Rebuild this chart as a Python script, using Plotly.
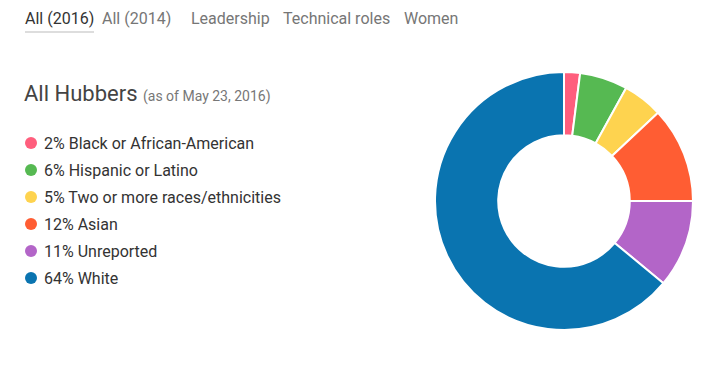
import plotly.graph_objects as go

labels = ["Black or African-American", "Hispanic or Latino", "Two or more races/ethnicities",
          "Asian", "Unreported", "White"]
values = [2, 6, 5, 12, 11, 64]
colors = ["#ff5e7d", "#56b952", "#fed34f", "#ff5d33", "#b365c8", "#0a74b0"]
tabs = ["All (2016)", "All (2014)", "Leadership", "Technical roles", "Women"]
title = "All Hubbers"
subtitle = "(as of May 23, 2016)"

W, H = 719, 373
OFF = 8  # page body margin
FONT = "Roboto, 'Open Sans', sans-serif"

fig = go.Figure()

fig.add_trace(go.Pie(
    labels=labels, values=values, sort=False, direction="clockwise", rotation=0,
    hole=0.51, marker=dict(colors=colors, line=dict(color="white", width=2)),
    textinfo="none", hoverinfo="label+percent", showlegend=False,
    domain=dict(x=[(433 - OFF) / W, (695 - OFF) / W],
                y=[1 - (330 - OFF) / H, 1 - (72 - OFF) / H]),
))

# legend dots
ly = [143 + 27 * i for i in range(len(labels))]
fig.add_trace(go.Scatter(
    x=[31] * len(labels), y=ly, mode="markers",
    marker=dict(color=colors, size=12), hoverinfo="skip", showlegend=False,
))

annotations = []
for i, (lab, v) in enumerate(zip(labels, values)):
    annotations.append(dict(x=42, y=ly[i], xref="x", yref="y", text=f"{v}% {lab}",
                            showarrow=False, xanchor="left", yanchor="middle",
                            font=dict(family=FONT, size=16, color="#333333")))

# tabs
tab_x = [23, 100, 189, 281, 402]
for i, t in enumerate(tabs):
    annotations.append(dict(x=tab_x[i], y=18, xref="x", yref="y", text=t, showarrow=False,
                            xanchor="left", yanchor="middle",
                            font=dict(family=FONT, size=16,
                                      color="#333333" if i == 0 else "#767676")))

annotations.append(dict(x=22, y=93, xref="x", yref="y",
                        text=f"{title} <span style='font-size:14px;color:#777777'>{subtitle}</span>",
                        showarrow=False, xanchor="left", yanchor="middle",
                        font=dict(family=FONT, size=22, color="#444444")))

fig.update_layout(
    width=W, height=H, margin=dict(l=0, r=0, t=0, b=0),
    paper_bgcolor="white", plot_bgcolor="white",
    xaxis=dict(range=[OFF, W + OFF], visible=False, fixedrange=True),
    yaxis=dict(range=[H + OFF, OFF], visible=False, fixedrange=True),
    annotations=annotations,
    shapes=[dict(type="line", x0=25, x1=94, y0=32, y1=32, xref="x", yref="y",
                 line=dict(color="#dddddd", width=2))],
)

fig.write_html("out.html")
